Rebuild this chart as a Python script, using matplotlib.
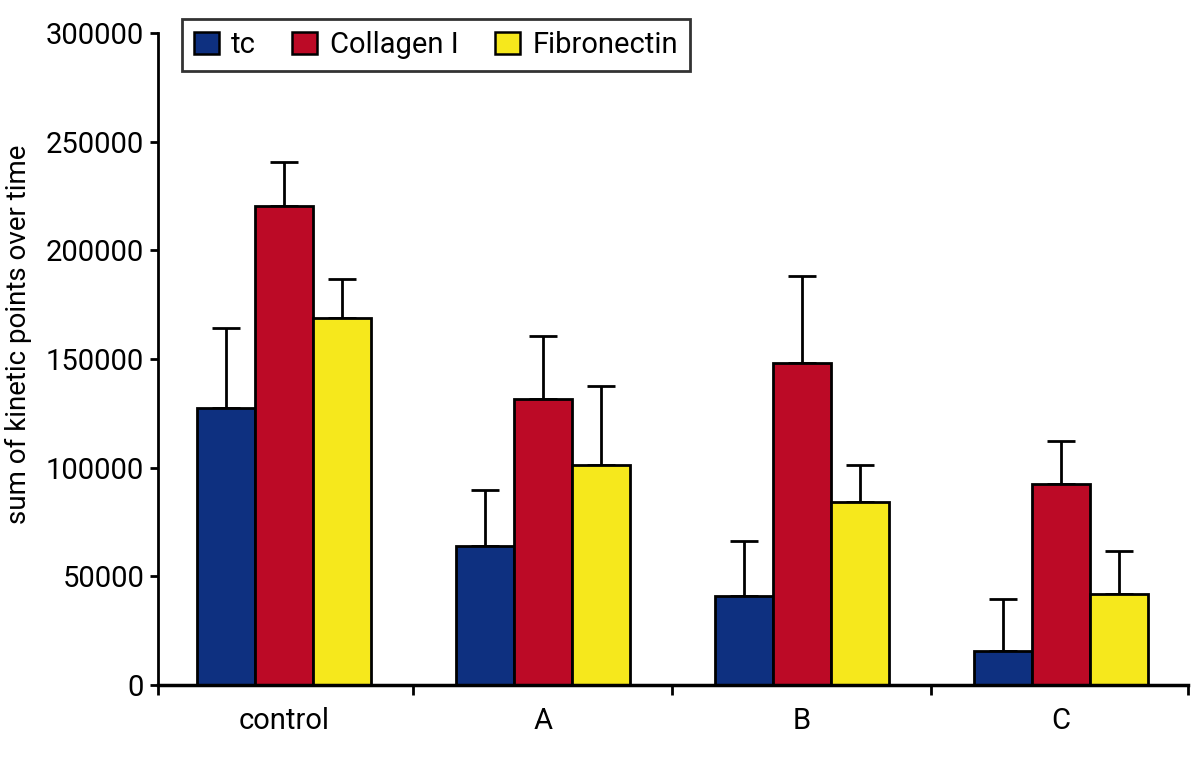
import numpy as np
import matplotlib
matplotlib.use('Agg')
import matplotlib.pyplot as plt
from matplotlib.ticker import FixedLocator, NullFormatter

plt.rcParams['font.family'] = ['Roboto', 'DejaVu Sans']

categories = ['control', 'A', 'B', 'C']
series = ['tc', 'Collagen I', 'Fibronectin']
colors = ['#0E3080', '#BC0A26', '#F6E81C']

tc = [127500, 64000, 41000, 15600]
collagen = [220400, 131500, 148300, 92500]
fibronectin = [168900, 101100, 84100, 41900]

# upper error bar ends
tc_err_top = [164400, 89700, 66300, 39400]
collagen_err_top = [240600, 160600, 188400, 112400]
fibronectin_err_top = [186800, 137700, 101100, 61800]


def main():
    values = [tc, collagen, fibronectin]
    tops = [tc_err_top, collagen_err_top, fibronectin_err_top]

    fig = plt.figure(figsize=(12, 7.57), dpi=100)
    ax = fig.add_axes([0.1317, 0.0951, 0.858, 0.861])

    x = np.arange(len(categories))
    w = 0.224
    for i, (name, vals, top, col) in enumerate(zip(series, values, tops, colors)):
        pos = x + (i - 1) * w
        vals = np.array(vals)
        err = np.array(top) - vals
        ax.bar(pos, vals, width=w, color=col, edgecolor='black', linewidth=2,
               label=name, zorder=2)
        ax.errorbar(pos, vals, yerr=[np.zeros_like(err), err], fmt='none',
                    ecolor='black', elinewidth=2, capsize=10, capthick=2, zorder=1)

    ax.set_xlim(-0.485, 3.49)
    ax.set_ylim(0, 300000)
    ax.set_yticks(np.arange(0, 300001, 50000))
    ax.set_xticks(x)
    ax.set_xticklabels(categories)
    ax.xaxis.set_minor_locator(FixedLocator([-0.485, 0.5, 1.5, 2.5, 3.49]))
    ax.xaxis.set_minor_formatter(NullFormatter())
    ax.tick_params(axis='x', which='major', length=0, labelsize=21, pad=16)
    ax.tick_params(axis='x', which='minor', length=7, width=2, direction='out')
    ax.tick_params(axis='y', length=6, width=2, direction='out', labelsize=21, pad=4)

    for s in ['top', 'right']:
        ax.spines[s].set_visible(False)
    ax.spines['left'].set_linewidth(2)
    ax.spines['bottom'].set_linewidth(2.5)

    ax.set_ylabel('sum of kinetic points over time', fontsize=20)
    ax.yaxis.set_label_coords(-0.122, 0.538)

    leg = ax.legend(loc='upper left', bbox_to_anchor=(0.0233, 1.0215), ncol=3,
                    fontsize=21, frameon=True, fancybox=False, edgecolor='black',
                    handlelength=0.86, handleheight=0.8, handletextpad=0.42,
                    columnspacing=1.25, borderpad=0.4, borderaxespad=0)
    leg.get_frame().set_linewidth(2)
    for h in leg.legend_handles:
        h.set_linewidth(1.8)

    fig.savefig('out.png', dpi=100)


if __name__ == '__main__':
    main()
